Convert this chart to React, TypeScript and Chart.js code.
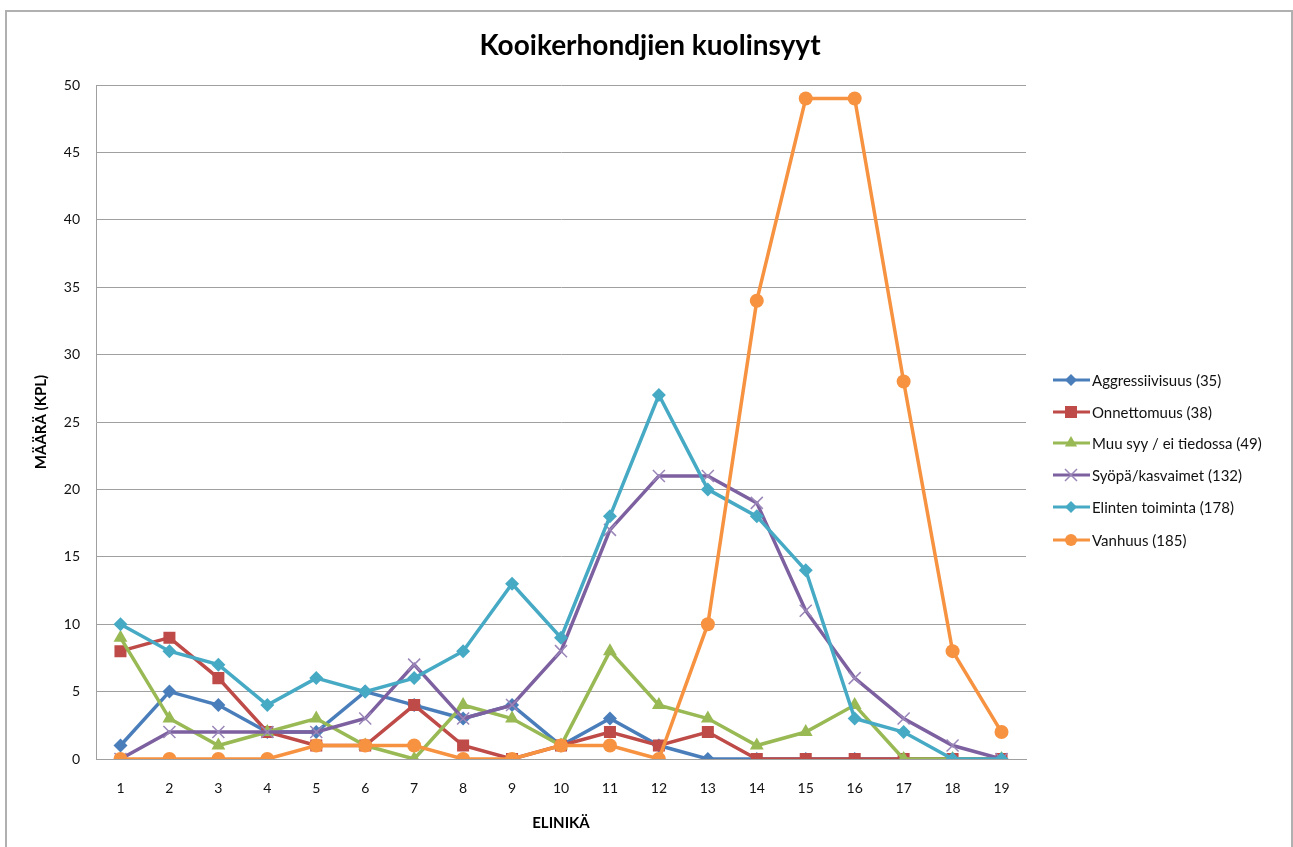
import React, { useEffect, useRef } from "react";
import { Chart, registerables } from "chart.js";

Chart.register(...registerables);

const ages = ["1","2","3","4","5","6","7","8","9","10","11","12","13","14","15","16","17","18","19"];
const aggressiivisuus = [1,5,4,2,2,5,4,3,4,1,3,1,0,0,0,0,0,0,0];
const onnettomuus = [8,9,6,2,1,1,4,1,0,1,2,1,2,0,0,0,0,0,0];
const muuSyy = [9,3,1,2,3,1,0,4,3,1,8,4,3,1,2,4,0,0,0];
const syopa = [0,2,2,2,2,3,7,3,4,8,17,21,21,19,11,6,3,1,0];
const elinten = [10,8,7,4,6,5,6,8,13,9,18,27,20,18,14,3,2,0,0];
const vanhuus = [0,0,0,0,1,1,1,0,0,1,1,0,10,34,49,49,28,8,2];

const seriesNames = [
  "Aggressiivisuus (35)",
  "Onnettomuus (38)",
  "Muu syy / ei tiedossa (49)",
  "Syöpä/kasvaimet (132)",
  "Elinten toiminta (178)",
  "Vanhuus (185)",
];
const seriesData = [aggressiivisuus, onnettomuus, muuSyy, syopa, elinten, vanhuus];
const lineColors = ["#4a7ebb", "#be4b48", "#98b954", "#7d60a0", "#46aac5", "#f69240"];
const markerColors = ["#4a7ebb", "#be4b48", "#98b954", "#9a86b8", "#46aac5", "#f69240"];
const markerStyles = ["rectRot", "rect", "triangle", "crossRot", "rectRot", "circle"];
const markerRadius = [7, 8.5, 8, 8.5, 7, 7];
const legendMarkerRadius = [6, 6, 7, 6, 6, 6];

const FONT = "Lato, 'Open Sans', sans-serif";

function drawMarker(ctx: CanvasRenderingContext2D, style: string, x: number, y: number, r: number, color: string) {
  ctx.save();
  ctx.fillStyle = color;
  ctx.strokeStyle = color;
  ctx.beginPath();
  if (style === "rectRot") {
    ctx.moveTo(x, y - r);
    ctx.lineTo(x + r, y);
    ctx.lineTo(x, y + r);
    ctx.lineTo(x - r, y);
    ctx.closePath();
    ctx.fill();
  } else if (style === "rect") {
    const s = r;
    ctx.rect(x - s, y - s, 2 * s, 2 * s);
    ctx.fill();
  } else if (style === "triangle") {
    ctx.moveTo(x, y - r);
    ctx.lineTo(x + r * 0.87, y + r * 0.5);
    ctx.lineTo(x - r * 0.87, y + r * 0.5);
    ctx.closePath();
    ctx.fill();
  } else if (style === "crossRot") {
    const s = r;
    ctx.lineWidth = 1.5;
    ctx.moveTo(x - s, y - s);
    ctx.lineTo(x + s, y + s);
    ctx.moveTo(x + s, y - s);
    ctx.lineTo(x - s, y + s);
    ctx.stroke();
  } else {
    ctx.arc(x, y, r, 0, Math.PI * 2);
    ctx.fill();
  }
  ctx.restore();
}

const decorPlugin = {
  id: "decor",
  beforeDraw(chart: any) {
    const ctx = chart.ctx as CanvasRenderingContext2D;
    ctx.save();
    ctx.fillStyle = "#ffffff";
    ctx.fillRect(0, 0, chart.width, chart.height);
    ctx.restore();
  },
  afterDraw(chart: any) {
    const ctx = chart.ctx as CanvasRenderingContext2D;
    ctx.save();
    // outer border
    ctx.strokeStyle = "#b0b0b0";
    ctx.lineWidth = 2;
    ctx.beginPath();
    ctx.moveTo(6, 860);
    ctx.lineTo(6, 11);
    ctx.lineTo(1292, 11);
    ctx.lineTo(1292, 860);
    ctx.stroke();

    // title
    ctx.fillStyle = "#000000";
    ctx.textAlign = "center";
    ctx.textBaseline = "middle";
    ctx.font = `bold 28px ${FONT}`;
    ctx.fillText("Kooikerhondjien kuolinsyyt", 650, 46);

    // axis titles
    ctx.font = `bold 15px ${FONT}`;
    ctx.fillText("ELINIKÄ", 561, 823);
    ctx.save();
    ctx.translate(41, 422);
    ctx.rotate(-Math.PI / 2);
    ctx.fillText("MÄÄRÄ (KPL)", 0, 0);
    ctx.restore();

    // legend
    ctx.font = `15px ${FONT}`;
    ctx.textAlign = "left";
    const ys = [380, 412, 443, 475, 507, 540];
    for (let i = 0; i < seriesNames.length; i++) {
      const y = ys[i];
      ctx.strokeStyle = lineColors[i];
      ctx.lineWidth = 3;
      ctx.beginPath();
      ctx.moveTo(1053, y);
      ctx.lineTo(1090, y);
      ctx.stroke();
      drawMarker(ctx, markerStyles[i], 1071, y, legendMarkerRadius[i], markerColors[i]);
      ctx.fillStyle = "#111111";
      ctx.fillText(seriesNames[i], 1092, y + 1);
    }
    ctx.restore();
  },
};

export default function App() {
  const ref = useRef<HTMLCanvasElement | null>(null);
  useEffect(() => {
    if (!ref.current) return;
    const chart = new Chart(ref.current, {
      type: "line",
      data: {
        labels: ages,
        datasets: seriesData.map((d, i) => ({
          label: seriesNames[i],
          data: d,
          borderColor: lineColors[i],
          backgroundColor: markerColors[i],
          pointBackgroundColor: markerColors[i],
          pointBorderColor: markerColors[i],
          pointBorderWidth: markerStyles[i] === "crossRot" ? 1.5 : 0,
          pointStyle: markerStyles[i] as any,
          pointRadius: markerRadius[i],
          borderWidth: 3.5,
          tension: 0,
          fill: false,
          order: 5 - i,
        })),
      },
      options: {
        animation: false,
        responsive: false,
        devicePixelRatio: 1,
        layout: { padding: { top: 85, left: 0, right: 267, bottom: 0 } },
        plugins: {
          legend: { display: false },
          title: { display: false },
          tooltip: { enabled: false },
        },
        scales: {
          x: {
            type: "category",
            offset: true,
            grid: { display: true, drawOnChartArea: false, drawTicks: false },
            border: { display: true, color: "#a0a0a0", width: 1 },
            ticks: { color: "#111111", font: { family: FONT, size: 14 }, padding: 21, maxRotation: 0 },
            afterFit: (scale: any) => { scale.height = 88; },
          },
          y: {
            min: 0,
            max: 50,
            ticks: { stepSize: 5, color: "#111111", font: { family: FONT, size: 14 }, padding: 16 },
            grid: { color: "#a0a0a0", lineWidth: 1, drawTicks: false },
            border: { display: true, color: "#a0a0a0", width: 1 },
            afterFit: (scale: any) => { scale.width = 96; },
          },
        },
      },
      plugins: [decorPlugin],
    });
    return () => chart.destroy();
  }, []);
  return (
    <div style={{ position: "absolute", left: 0, top: 0, width: 1293, height: 847 }}>
      <canvas ref={ref} width={1293} height={847} style={{ width: 1293, height: 847, display: "block" }} />
    </div>
  );
}
